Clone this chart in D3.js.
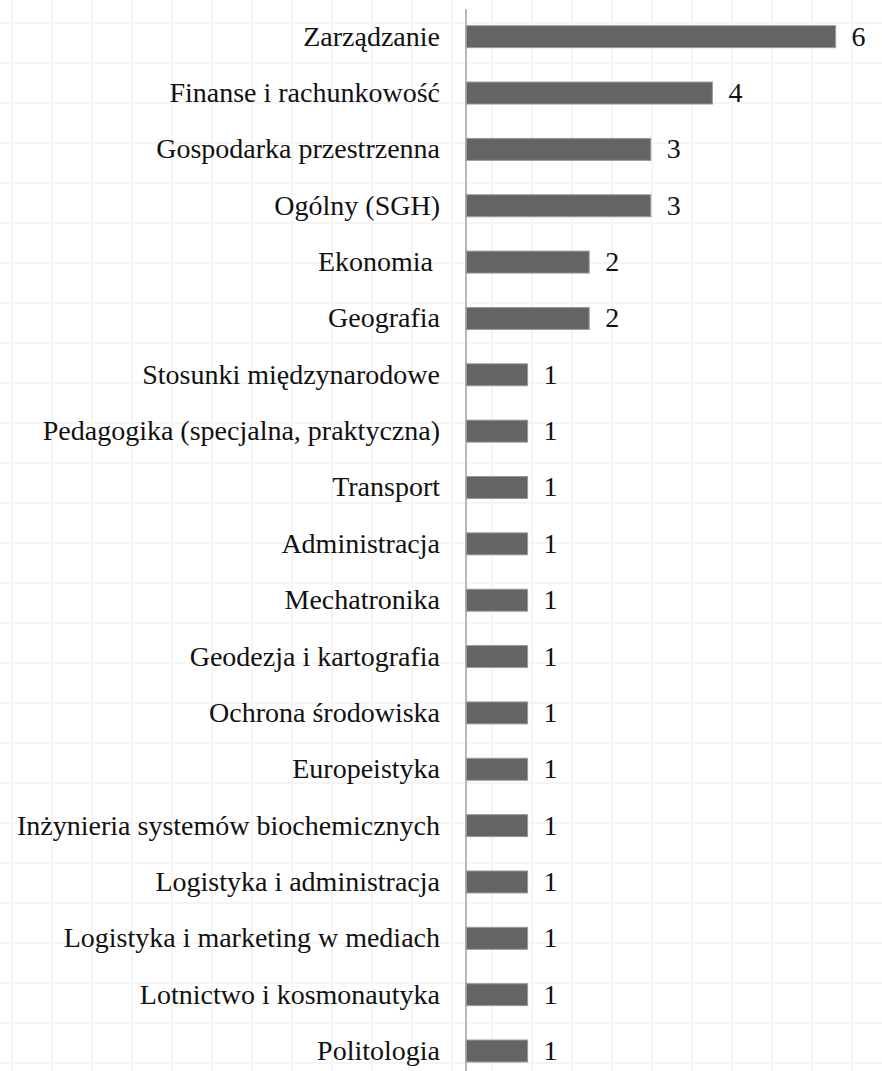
<!DOCTYPE html>
<html><head><meta charset="utf-8">
<script src="https://cdn.jsdelivr.net/npm/d3@7"></script>
<style>
html,body{margin:0;padding:0;background:#fff;}
svg{display:block;}
</style></head>
<body>
<svg id="chart" width="882" height="1071"></svg>
<script>
const categories = [
  "Zarządzanie",
  "Finanse i rachunkowość",
  "Gospodarka przestrzenna",
  "Ogólny (SGH)",
  "Ekonomia ",
  "Geografia",
  "Stosunki międzynarodowe",
  "Pedagogika (specjalna, praktyczna)",
  "Transport",
  "Administracja",
  "Mechatronika",
  "Geodezja i kartografia",
  "Ochrona środowiska",
  "Europeistyka",
  "Inżynieria systemów biochemicznych",
  "Logistyka i administracja",
  "Logistyka i marketing w mediach",
  "Lotnictwo i kosmonautyka",
  "Politologia"
];
const values = [6, 4, 3, 3, 2, 2, 1, 1, 1, 1, 1, 1, 1, 1, 1, 1, 1, 1, 1];

const W = 882, H = 1071;
const svg = d3.select("#chart");

// background graph-paper grid
const gx = d3.range(12, W, 40), gy = d3.range(23, H, 40);
const grid = svg.append("g").attr("stroke", "#f5f5f5").attr("stroke-width", 2);
grid.selectAll("line.v").data(gx).join("line").attr("class","v")
  .attr("x1", d => d).attr("x2", d => d).attr("y1", 0).attr("y2", H);
grid.selectAll("line.h").data(gy).join("line").attr("class","h")
  .attr("y1", d => d).attr("y2", d => d).attr("x1", 0).attr("x2", W);

const x = d3.scaleLinear().domain([0, 6]).range([466, 835.6]);
const y = d3.scaleBand().domain(categories).range([8.5, 1079.2])
  .paddingInner(0.61).paddingOuter(0.305);

const font = "'Liberation Serif', 'Times New Roman', serif";

// bars
svg.append("g").selectAll("rect").data(values).join("rect")
  .attr("x", x(0))
  .attr("y", (d, i) => y(categories[i]))
  .attr("width", d => x(d) - x(0))
  .attr("height", y.bandwidth())
  .attr("fill", "#646464")
  .attr("stroke", "#9a9a9a")
  .attr("stroke-width", 1);

// category axis
const ax = svg.append("g").attr("transform", `translate(${x(0)},0)`)
  .call(d3.axisLeft(y).tickSize(0).tickPadding(26));
ax.select(".domain").remove();
ax.selectAll("text")
  .attr("font-family", font)
  .attr("font-size", 28)
  .attr("fill", "#111")
  .attr("dy", "0.32em")
  .style("white-space", "pre");

// axis line
svg.append("line")
  .attr("x1", x(0)).attr("x2", x(0))
  .attr("y1", 9).attr("y2", H)
  .attr("stroke", "#a0a0a0").attr("stroke-width", 1.5);

// value labels
svg.append("g").selectAll("text").data(values).join("text")
  .attr("x", d => x(d) + 16)
  .attr("y", (d, i) => y(categories[i]) + y.bandwidth() / 2)
  .attr("dy", "0.32em")
  .attr("font-family", font)
  .attr("font-size", 28)
  .attr("fill", "#111")
  .text(d => d);
</script>
</body></html>
